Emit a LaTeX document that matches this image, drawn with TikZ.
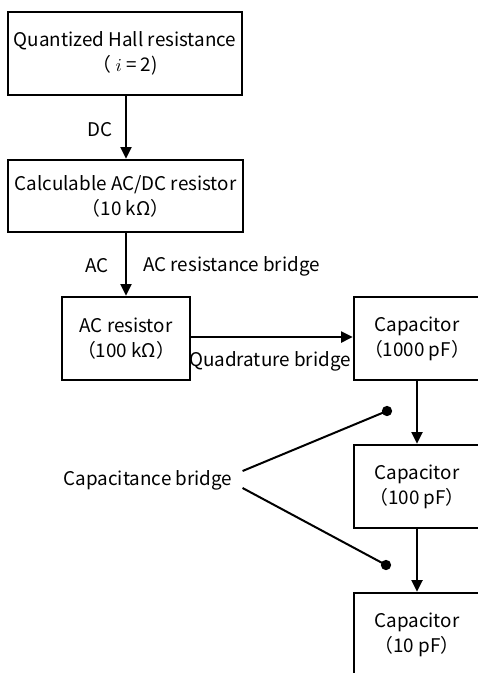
\documentclass[tikz,border=0pt]{standalone}
\usepackage{fontspec}
\setmainfont{Noto Sans CJK JP}
\usetikzlibrary{arrows.meta}

\begin{document}
\begin{tikzpicture}[x=0.6pt, y=-0.6pt,
  box/.style={draw, line width=1.4pt, align=center, inner sep=0pt},
  flow/.style={line width=1.2pt, -{Triangle[length=7pt, width=6.6pt]}},
  tag/.style={inner sep=0pt},
  dot/.style={circle, fill, inner sep=0pt, minimum size=6.2pt},
  font=\fontsize{11.3pt}{15pt}\selectfont]
\useasboundingbox (0,0) rectangle (478,673);
\clip (0,0) rectangle (478,673);

%% resistance chain
\node[box, minimum width=140.4pt, minimum height=49.8pt] (hall) at (125,53.5)
  {Quantized Hall resistance\\（ $i$ = 2)};
\node[box, minimum width=141pt, minimum height=43.2pt] (calc) at (125.5,196)
  {Calculable AC/DC resistor\\（10 kΩ）};
\node[box, minimum width=76.8pt, minimum height=49.8pt] (acr) at (126,338.5)
  {AC resistor\\（100 kΩ）};

\draw[flow] (hall.south -| 126,0) -- (calc.north -| 126,0);
\node[tag] (dc) at (100,130) {DC};
\draw[flow] (calc.south -| 126,0) -- (acr.north -| 126,0);
\node[tag] (ac) at (97,266) {AC};
\node[tag, anchor=west] (acb) at (143,266) {AC resistance bridge};

%% capacitance chain
\node[box, minimum width=75.6pt, minimum height=49.8pt] (cap1) at (417,338.5)
  {Capacitor\\（1000 pF）};
\node[box, minimum width=75.6pt, minimum height=49.8pt] (cap2) at (417,486.5)
  {Capacitor\\（100 pF）};
\node[box, minimum width=75.6pt, minimum height=49.8pt] (cap3) at (417,634.5)
  {Capacitor\\（10 pF）};

\draw[flow] (acr.east |- 0,337) -- (cap1.west |- 0,337);
\node[tag] (quad) at (270,361) {Quadrature bridge};
\draw[flow] (cap1) -- (cap2);
\draw[flow] (cap2) -- (cap3);

%% bridge between capacitors
\node[tag] (cbr) at (148,480) {Capacitance bridge};
\node[dot] (d1) at (387,411) {};
\node[dot] (d2) at (386,565) {};
\draw[line width=1.2pt] ([xshift=6pt, yshift=5.4pt]cbr.east) -- (d1.center);
\draw[line width=1.2pt] ([xshift=6pt, yshift=-4.8pt]cbr.east) -- (d2.center);

\end{tikzpicture}
\end{document}
